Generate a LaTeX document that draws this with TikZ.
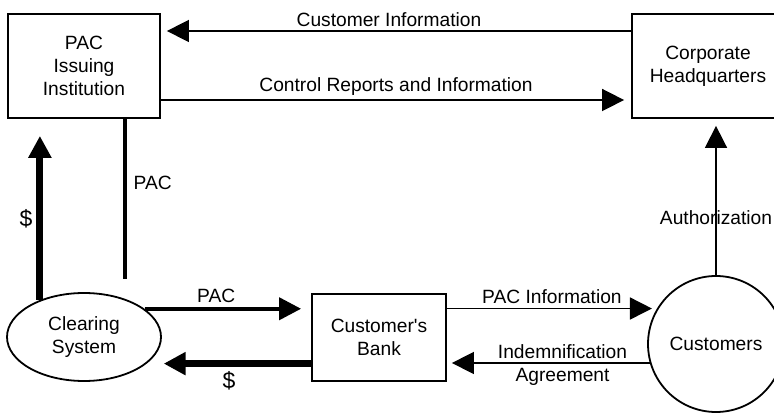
\documentclass[tikz,border=0pt]{standalone}
\usepackage{fontspec}
\setmainfont{Liberation Sans}
\usetikzlibrary{arrows.meta,shapes.geometric}

\tikzset{
  block/.style={draw, line width=0.9pt, inner sep=0pt, align=center},
  oval/.style={draw, ellipse, line width=0.9pt, inner sep=0pt, minimum width=77pt, minimum height=44pt, align=center},
  flow/.style={line width=0.8pt, -{Triangle[length=11pt,width=11pt]}},
  pacflow/.style={line width=2pt, -{Triangle[length=11pt,width=11pt]}},
  cashflow/.style={line width=3.5pt, -{Triangle[length=11pt,width=11pt]}},
  lbl/.style={inner sep=2pt},
  cash/.style={inner sep=2pt, font=\fontsize{11.5}{13}\selectfont}
}

\begin{document}
\begin{tikzpicture}[x=0.5pt, y=-0.5pt, every node/.style={font=\fontsize{9.6}{11.5}\selectfont}]
        \useasboundingbox (0,0) rectangle (774,416);

        % Boxes
        \node[block, minimum width=76pt, minimum height=52pt] (pac) at (84,66) {PAC\\Issuing\\Institution};
        \node[block, minimum width=76pt, minimum height=52pt] (hq) at (708,66) {Corporate\\Headquarters};
        \node[oval] (clear) at (84,337) {Clearing\\System};
        \node[block, minimum width=67pt, minimum height=43.5pt] (bank) at (379,337.5) {Customer\textquotesingle s\\Bank};
        \node[draw, circle, line width=0.9pt, minimum size=68pt, inner sep=0pt] (cust) at (716,344) {Customers};

        % Top arrows
        \draw[flow, shorten >=3pt] ([yshift=17.5pt]hq.west) -- ([yshift=17.5pt]pac.east)
            node[lbl, pos=0.515, above] {Customer Information};
        \draw[flow, shorten >=3.5pt] ([yshift=-17pt]pac.east) -- ([yshift=-17pt]hq.west)
            node[lbl, midway, above] {Control Reports and Information};

        % PAC line and money to the issuer
        \draw[line width=2pt] ([xshift=20.5pt]pac.south) -- ++(0,160) node[pos=0.4, right] {PAC};
        \draw[cashflow, shorten >=8.5pt] (clear.140) -- (clear.140 |- pac.south)
            node[cash, pos=0.45, left] {\$};

        % Clearing system <-> bank
        \draw[pacflow, shorten >=5pt] (clear.25) -- (clear.25 -| bank.west)
            node[lbl, pos=0.43, above] {PAC};
        \draw[cashflow, shorten >=8.5pt] (bank.west |- clear.337) -- (clear.337)
            node[cash, midway, below] {\$};

        % Bank <-> customers
        \draw[flow, shorten >=2.5pt] (bank.east |- cust.149) -- (cust.149)
            node[lbl, midway, above] {PAC Information};
        \draw[flow, shorten >=2.5pt] (cust.196) -- (bank.east |- cust.196)
            node[lbl, pos=0.43, above] {Indemnification}
            node[lbl, pos=0.43, below] {Agreement};

        % Customers to headquarters
        \draw[flow, shorten >=3.5pt] (cust.north) -- (cust.north |- hq.south)
            node[pos=0.37] {Authorization};

    \end{tikzpicture}
\end{document}
